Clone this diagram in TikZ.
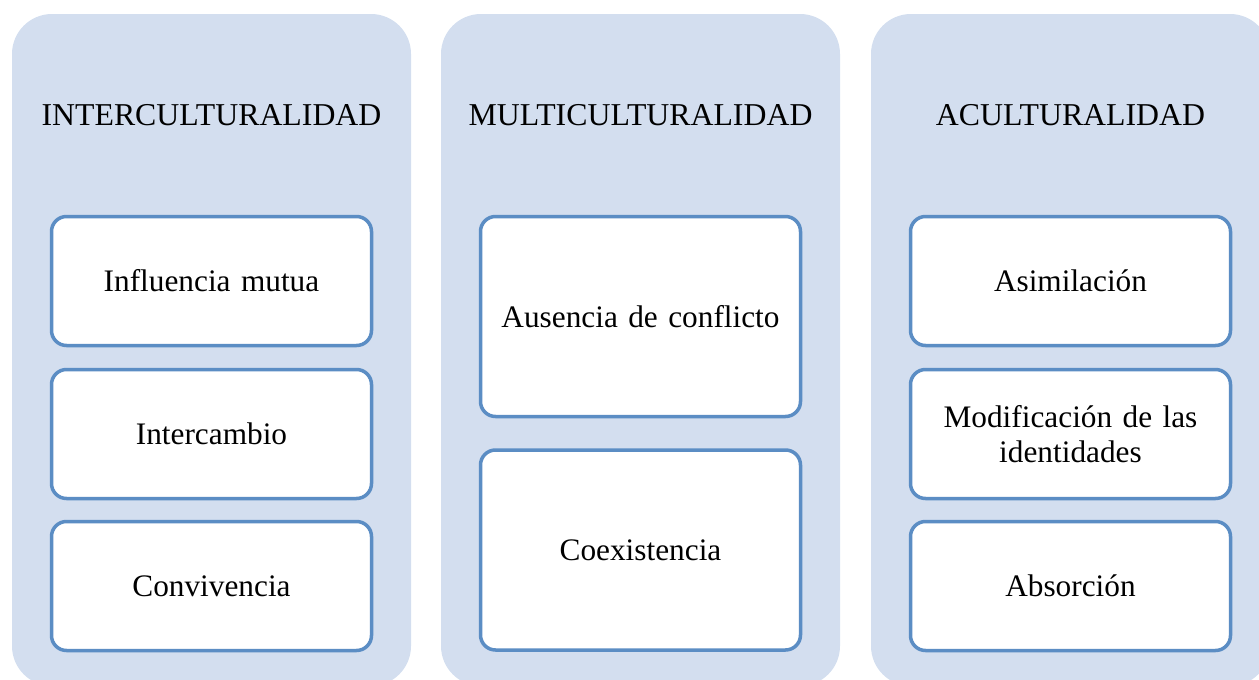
\documentclass[tikz,border=0pt]{standalone}
\usepackage{fontspec}
\setmainfont{Liberation Serif}
\usepackage{tikz}
\usetikzlibrary{positioning}

\definecolor{panelfill}{HTML}{D3DEEF}
\definecolor{boxline}{HTML}{5B8DC4}

\tikzset{
    panel/.style={fill=panelfill, rounded corners=40pt, minimum width=399pt, minimum height=672pt, inner sep=0pt},
    heading/.style={font=\fontsize{31.8}{36}\selectfont},
    itembox/.style={draw=boxline, line width=3.5pt, fill=white, rounded corners=15pt, minimum width=320pt,
        text width=290pt, align=center, inner sep=0pt, font=\fontsize{31.3}{35}\selectfont},
    short/.style={minimum height=129pt},
    tall/.style={minimum height=200pt}
}

\begin{document}
\begin{tikzpicture}[x=1pt, y=-1pt]
    \useasboundingbox (0,0) rectangle (1259,680);
    \clip (0,0) rectangle (1259,680);

    % draw panels
    \node[panel] (pinter) at (211.5,350) {};
    \node[panel] (pmulti) at (640.5,350) {};
    \node[panel] (pacult) at (1070.5,350) {};

    % draw headings
    \node[heading] (hinter) at (211.5,115) {INTERCULTURALIDAD};
    \node[heading] (hmulti) at (640.5,115) {MULTICULTURALIDAD};
    \node[heading] (hacult) at (1070.5,115) {ACULTURALIDAD};

    % draw boxes of the first panel
    \node[itembox, short] (influencia) at (211.5,281) {Influencia mutua};
    \node[itembox, short] (intercambio) at (211.5,434) {Intercambio};
    \node[itembox, short] (convivencia) at (211.5,586) {Convivencia};

    % draw boxes of the second panel
    \node[itembox, tall] (ausencia) at (640.5,316.5) {Ausencia de conflicto};
    \node[itembox, tall] (coexistencia) at (640.5,550) {Coexistencia};

    % draw boxes of the third panel
    \node[itembox, short] (asimilacion) at (1070.5,281) {Asimilación};
    \node[itembox, short] (modificacion) at (1070.5,434) {Modificación de las\\ identidades};
    \node[itembox, short] (absorcion) at (1070.5,586) {Absorción};
\end{tikzpicture}
\end{document}
